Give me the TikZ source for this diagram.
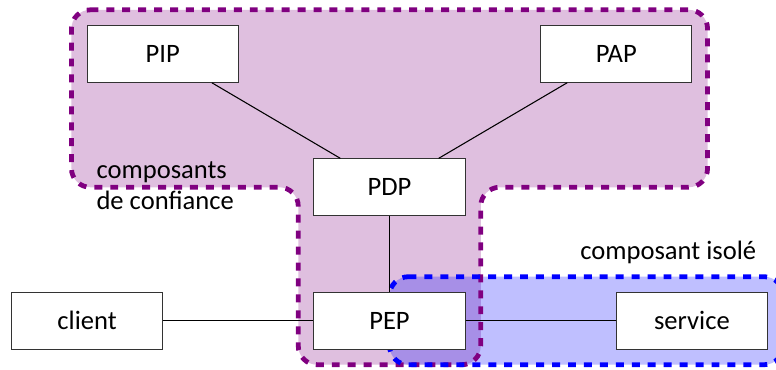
\documentclass[tikz,border=0pt]{standalone}
\usepackage{fontspec}
\setmainfont{Carlito}
\usepackage{tikz}
\usetikzlibrary{positioning,calc,backgrounds}

\begin{document}
\begin{tikzpicture}[font=\normalsize,
      comp/.style={draw=black!80, fill=white, minimum width=2cm, minimum height=0.75cm, inner sep=0pt},
      lbl/.style={inner sep=0pt},
      trust/.style={fill=violet!25, rounded corners=0.25cm},
      trustline/.style={draw=violet, line width=1.8pt, dashed, rounded corners=0.25cm},
      isol/.style={fill=blue, fill opacity=0.25, rounded corners=0.25cm},
      isolline/.style={draw=blue, line width=1.8pt, dashed, rounded corners=0.25cm}]
    \useasboundingbox (-5.152,-0.639) rectangle (5.112,4.242);
    % ---- components
    \node[comp] (PEP) at (0,0) {PEP};
    \node[comp] (PDP) at (0,1.765) {PDP};
    \node[comp] (PIP) at (-3,3.53) {PIP};
    \node[comp] (PAP) at (3,3.53) {PAP};
    \node[comp] (client) at (-4,0) {client};
    \node[comp] (service) at (4,0) {service};
    % ---- links
    \draw (PIP) -- (PDP);
    \draw (PAP) -- (PDP);
    \draw (PDP) -- (PEP);
    \draw (client) -- (PEP);
    \draw (PEP) -- (service);
    % ---- zones
    \coordinate (tl) at ($(PIP.north west)+(-0.2,0.2)$);
    \coordinate (tr) at ($(PAP.north east)+(0.2,0.2)$);
    \coordinate (sl) at ($(PEP.south west)+(-0.2,-0.2)$);
    \coordinate (sr) at ($(PEP.south east)+(0.2,-0.2)$);
    \coordinate (il) at ($(PEP.center |- service.north)+(0,0.2)$);
    \coordinate (ir) at ($(service.south east)+(0.2,-0.2)$);
    \def\trustzone{(tl) -- (tr) -- (tr |- PDP.center) -- (sr |- PDP.center) -- (sr) -- (sl) -- (sl |- PDP.center) -- (tl |- PDP.center) -- cycle}
    \def\isolzone{(il) -- (il -| ir) -- (ir) -- (ir -| il) -- cycle}
    \begin{scope}[on background layer]
      \path[trust] \trustzone;
      \path[isol] \isolzone;
      \path[trustline] \trustzone;
      \path[isolline] \isolzone;
    \end{scope}
    % ---- labels
    \node[lbl, anchor=base west, align=left] (trustlbl) at (-3.882,1.465) {composants\\de confiance};
    \node[lbl, anchor=base east] (isollbl) at (4.857,0.812) {composant isolé};
  \end{tikzpicture}
\end{document}
